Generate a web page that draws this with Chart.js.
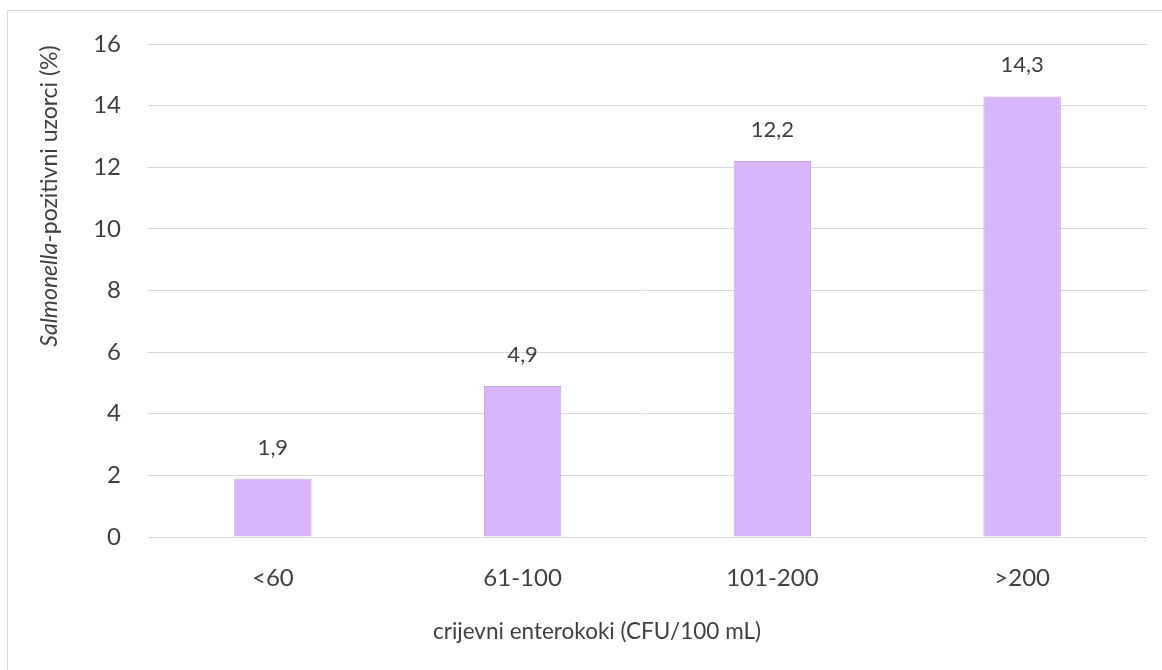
<!DOCTYPE html>
<html>
<head>
<meta charset="utf-8">
<script src="https://cdn.jsdelivr.net/npm/chart.js@4"></script>
<style>
  body { margin: 0; background: #fff; }
  #frame { position: absolute; left: 7px; top: 10px; width: 1160px; height: 680px; border: 1px solid #d9d9d9; box-sizing: border-box; }
  #wrap { position: absolute; left: 0; top: 0; width: 1162px; height: 670px; }
</style>
</head>
<body>
<div id="frame"></div>
<div id="wrap"><canvas id="myChart"></canvas></div>
<script>
// Chart values
const categories = ['<60', '61-100', '101-200', '>200'];
const positiveShare = [1.9, 4.9, 12.2, 14.3];
const yTicks = [0, 2, 4, 6, 8, 10, 12, 14, 16];

const xTitle = 'crijevni enterokoki (CFU/100 mL)';
const yTitleItalic = 'Salmonella';
const yTitleRest = '-pozitivni uzorci (%)';

const fontFamily = 'Lato, "Open Sans", sans-serif';
const textColor = '#404040';

// value labels above the bars, with decimal comma
const valueLabels = {
  id: 'valueLabels',
  afterDatasetsDraw(chart) {
    const c = chart.ctx;
    const meta = chart.getDatasetMeta(0);
    c.save();
    c.font = '22px ' + fontFamily;
    c.fillStyle = textColor;
    c.textAlign = 'center';
    c.textBaseline = 'middle';
    meta.data.forEach((bar, i) => {
      c.fillText(String(positiveShare[i]).replace('.', ','), bar.x, bar.y - 31);
    });
    c.restore();
  }
};

// axis titles (y title mixes italic and normal text)
const axisTitles = {
  id: 'axisTitles',
  afterDraw(chart) {
    const c = chart.ctx;
    c.save();
    c.fillStyle = textColor;
    c.textBaseline = 'middle';
    c.textAlign = 'center';
    c.font = '22.5px ' + fontFamily;
    c.fillText(xTitle, 597, 632);

    c.translate(50, 196);
    c.rotate(-Math.PI / 2);
    c.font = 'italic 23px ' + fontFamily;
    const w1 = c.measureText(yTitleItalic).width;
    c.font = '23px ' + fontFamily;
    const w2 = c.measureText(yTitleRest).width;
    c.textAlign = 'left';
    let x = -(w1 + w2) / 2;
    c.font = 'italic 23px ' + fontFamily;
    c.fillText(yTitleItalic, x, 0);
    c.font = '23px ' + fontFamily;
    c.fillText(yTitleRest, x + w1, 0);
    c.restore();
  }
};

const ctx = document.getElementById('myChart');

let myChart = new Chart(ctx, {
  type: 'bar',
  data: {
    labels: categories,
    datasets: [{
      data: positiveShare,
      backgroundColor: '#d9b5fc',
      borderColor: '#c7a2ea',
      borderWidth: 1,
      barPercentage: 0.31,
      categoryPercentage: 1
    }]
  },
  options: {
    responsive: true,
    maintainAspectRatio: false,
    animation: false,
    layout: { padding: { top: 44, right: 15, left: 0, bottom: 0 } },
    plugins: {
      legend: { display: false },
      tooltip: { enabled: false }
    },
    scales: {
      x: {
        grid: { display: false, drawTicks: false },
        border: { display: false },
        ticks: { color: textColor, font: { family: fontFamily, size: 24 }, padding: 27 },
        afterFit: s => { s.height = 133; }
      },
      y: {
        min: 0,
        max: 16,
        afterBuildTicks: s => { s.ticks = yTicks.map(v => ({ value: v })); },
        grid: { color: '#d9d9d9', drawTicks: false },
        border: { display: false },
        ticks: { color: textColor, font: { family: fontFamily, size: 24 }, padding: 27 },
        afterFit: s => { s.width = 148; }
      }
    }
  },
  plugins: [valueLabels, axisTitles]
});
</script>
</body>
</html>
